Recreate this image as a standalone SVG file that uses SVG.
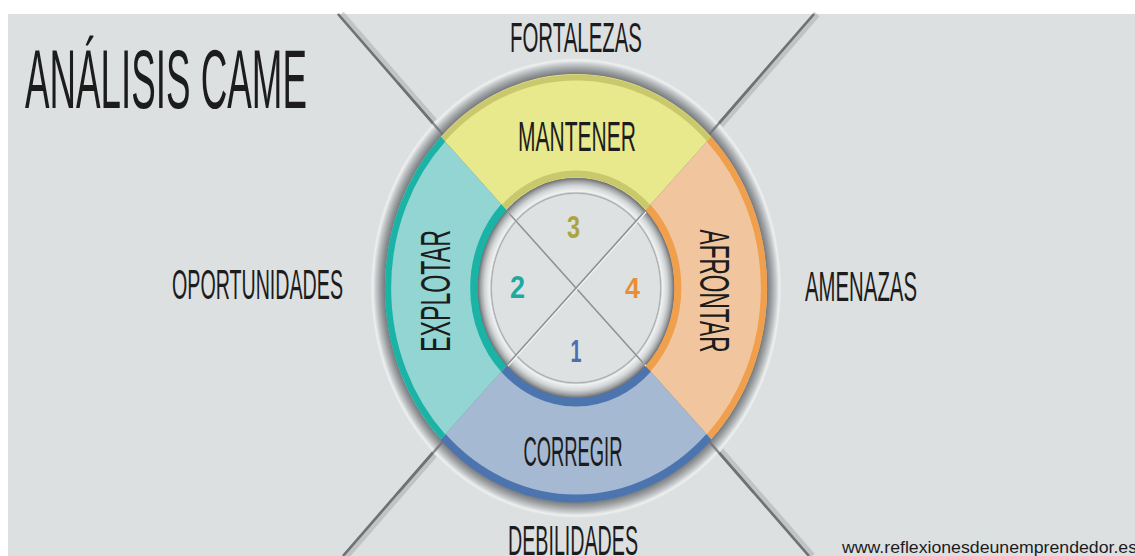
<svg xmlns="http://www.w3.org/2000/svg" width="1135" height="556" viewBox="0 0 1135 556">
<style>
.lbl{font-family:"Liberation Sans Narrow","Liberation Sans",Arial,sans-serif;fill:#1c1c1c;text-anchor:middle}
.num{font-family:"Liberation Sans","DejaVu Sans",sans-serif;font-weight:bold;text-anchor:middle}
.core{stroke:#6f7274;stroke-width:2.6;fill:none}
.shade{stroke:#a9acae;stroke-width:7;fill:none;opacity:.55}
.thin{stroke:#8e9193;stroke-width:1.6;fill:none}
.hl{stroke:#f4f5f5;stroke-width:1.2;fill:none}
</style>
<defs>
<radialGradient id="halo" gradientUnits="userSpaceOnUse" cx="0" cy="0" r="230">
<stop offset="0" stop-color="#76797c"/>
<stop offset="0.93" stop-color="#76797c"/>
<stop offset="0.952" stop-color="#9c9fa2"/>
<stop offset="0.975" stop-color="#c9cccd"/>
<stop offset="0.99" stop-color="#eef0f0"/>
<stop offset="1" stop-color="#dde0e1"/>
</radialGradient>
<radialGradient id="bevel" gradientUnits="userSpaceOnUse" cx="0" cy="0" r="110">
<stop offset="0" stop-color="#dee1e2"/>
<stop offset="0.85" stop-color="#dee1e2"/>
<stop offset="0.862" stop-color="#a8abad"/>
<stop offset="0.878" stop-color="#f1f3f3"/>
<stop offset="0.93" stop-color="#d2d5d6"/>
<stop offset="0.97" stop-color="#a2a5a7"/>
<stop offset="1" stop-color="#6c6f72"/>
</radialGradient>
</defs>

<rect x="0" y="0" width="1135" height="556" fill="#ffffff"/>
<rect x="8" y="14" width="1127" height="542" fill="#dde0e1"/>

<g id="title">
<text class="lbl" x="166" y="108" font-size="84" textLength="282" lengthAdjust="spacingAndGlyphs">ANÁLISIS CAME</text>
</g>

<g id="connectors-outer">
<line class="shade" x1="341" y1="14" x2="812" y2="556"/>
<line class="core" x1="338" y1="14" x2="809" y2="556"/>
<line class="shade" x1="817" y1="14" x2="346" y2="556"/>
<line class="core" x1="814" y1="14" x2="343" y2="556"/>
</g>

<g id="halo-ring">
<circle transform="translate(576,288) scale(0.893,1)" cx="0" cy="0" r="230" fill="url(#halo)"/>
</g>
<g id="connectors-halo" opacity="0.8">
<line class="core" x1="398" y1="83" x2="445" y2="137"/>
<line class="core" x1="754" y1="83" x2="707" y2="137"/>
<line class="core" x1="445" y1="439" x2="398" y2="493"/>
<line class="core" x1="707" y1="439" x2="754" y2="493"/>
</g>

<g id="mantener">
<path transform="translate(576,288) scale(0.893,1)" d="M -151.32,-151.32 A 214 214 0 0 1 151.32,-151.32 L 77.78,-77.78 A 110 110 0 0 0 -77.78,-77.78 Z" fill="#e8e88c"/>
<path transform="translate(576,288) scale(0.893,1)" d="M -148.85,-148.85 A 210.5 210.5 0 0 1 148.85,-148.85" fill="none" stroke="#c9c86c" stroke-width="6"/>
<path transform="translate(576,288) scale(0.893,1)" d="M -80.61,-80.61 A 114 114 0 0 1 80.61,-80.61" fill="none" stroke="#c9c86c" stroke-width="7"/>
<text class="lbl" x="577" y="151" font-size="42" textLength="118" lengthAdjust="spacingAndGlyphs">MANTENER</text>
</g>

<g id="afrontar">
<path transform="translate(576,288) scale(0.893,1)" d="M 151.32,-151.32 A 214 214 0 0 1 151.32,151.32 L 77.78,77.78 A 110 110 0 0 0 77.78,-77.78 Z" fill="#f1c69e"/>
<path transform="translate(576,288) scale(0.893,1)" d="M 148.85,-148.85 A 210.5 210.5 0 0 1 148.85,148.85" fill="none" stroke="#f09f4c" stroke-width="7"/>
<path transform="translate(576,288) scale(0.893,1)" d="M 80.61,-80.61 A 114 114 0 0 1 80.61,80.61" fill="none" stroke="#f09f4c" stroke-width="8"/>
<text class="lbl" transform="translate(700,291) rotate(90)" x="0" y="0" font-size="42" textLength="123" lengthAdjust="spacingAndGlyphs">AFRONTAR</text>
</g>

<g id="corregir">
<path transform="translate(576,288) scale(0.893,1)" d="M 151.32,151.32 A 214 214 0 0 1 -151.32,151.32 L -77.78,77.78 A 110 110 0 0 0 77.78,77.78 Z" fill="#a6b9d3"/>
<path transform="translate(576,288) scale(0.893,1)" d="M 148.85,148.85 A 210.5 210.5 0 0 1 -148.85,148.85" fill="none" stroke="#4c74ae" stroke-width="8"/>
<path transform="translate(576,288) scale(0.893,1)" d="M 80.61,80.61 A 114 114 0 0 1 -80.61,80.61" fill="none" stroke="#4c74ae" stroke-width="9"/>
<text class="lbl" x="573" y="466" font-size="42" textLength="99" lengthAdjust="spacingAndGlyphs">CORREGIR</text>
</g>

<g id="explotar">
<path transform="translate(576,288) scale(0.893,1)" d="M -151.32,151.32 A 214 214 0 0 1 -151.32,-151.32 L -77.78,-77.78 A 110 110 0 0 0 -77.78,77.78 Z" fill="#92d5d3"/>
<path transform="translate(576,288) scale(0.893,1)" d="M -148.85,148.85 A 210.5 210.5 0 0 1 -148.85,-148.85" fill="none" stroke="#1bb3a6" stroke-width="7"/>
<path transform="translate(576,288) scale(0.893,1)" d="M -80.61,80.61 A 114 114 0 0 1 -80.61,-80.61" fill="none" stroke="#1bb3a6" stroke-width="9"/>
<text class="lbl" transform="translate(450,291) rotate(-90)" x="0" y="0" font-size="42" textLength="122" lengthAdjust="spacingAndGlyphs">EXPLOTAR</text>
</g>

<g id="centro">
<circle transform="translate(576,288) scale(0.893,1)" cx="0" cy="0" r="110" fill="url(#bevel)"/>
</g>

<g id="connectors-inner">
<line class="hl" x1="508" y1="212" x2="646" y2="366"/>
<line class="thin" x1="507" y1="211" x2="645" y2="365"/>
<line class="hl" x1="646" y1="212" x2="508" y2="366"/>
<line class="thin" x1="645" y1="211" x2="507" y2="365"/>
</g>

<g id="n3"><text class="num" x="573.5" y="238" font-size="32" fill="#aba53e" textLength="13" lengthAdjust="spacingAndGlyphs">3</text></g>
<g id="n2"><text class="num" x="517.5" y="298" font-size="32" fill="#1caa9f" textLength="15" lengthAdjust="spacingAndGlyphs">2</text></g>
<g id="n4"><text class="num" x="632.5" y="298" font-size="30" fill="#ea8e36" textLength="15" lengthAdjust="spacingAndGlyphs">4</text></g>
<g id="n1"><text class="num" x="576" y="362" font-size="31" fill="#4b6fb0" textLength="11" lengthAdjust="spacingAndGlyphs">1</text></g>

<g id="fortalezas"><text class="lbl" x="576" y="52" font-size="42" textLength="132" lengthAdjust="spacingAndGlyphs">FORTALEZAS</text></g>
<g id="oportunidades"><text class="lbl" x="257.5" y="299" font-size="42" textLength="171" lengthAdjust="spacingAndGlyphs">OPORTUNIDADES</text></g>
<g id="amenazas"><text class="lbl" x="861" y="301" font-size="42" textLength="112" lengthAdjust="spacingAndGlyphs">AMENAZAS</text></g>
<g id="debilidades"><text class="lbl" x="573" y="555" font-size="42" textLength="130" lengthAdjust="spacingAndGlyphs">DEBILIDADES</text></g>

<g id="url"><text x="842" y="553" font-family="'Liberation Sans Narrow','Liberation Sans',Arial,sans-serif" font-size="16" fill="#1c1c1c" textLength="295" lengthAdjust="spacingAndGlyphs">www.reflexionesdeunemprendedor.es</text></g>
</svg>
